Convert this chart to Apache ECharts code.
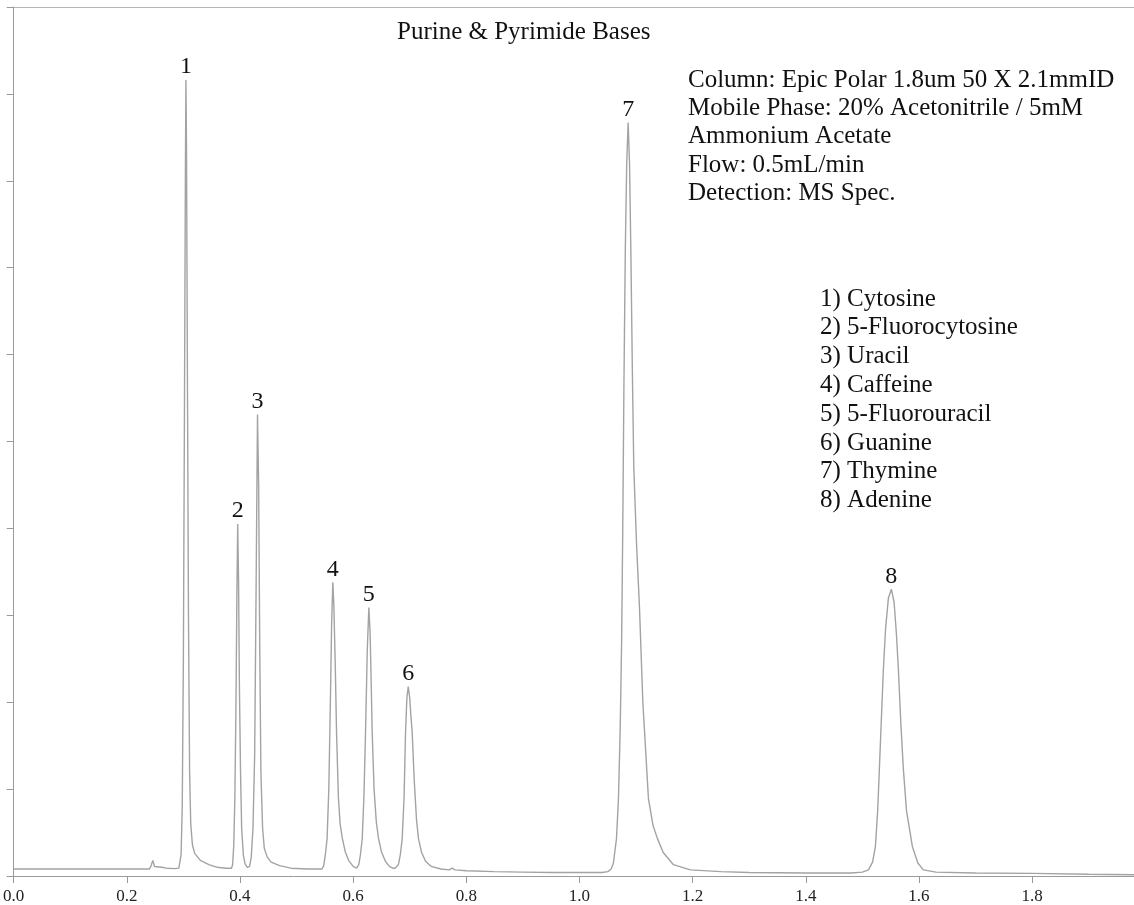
<!DOCTYPE html>
<html>
<head>
<meta charset="utf-8">
<title>Purine &amp; Pyrimide Bases</title>
<script src="https://cdn.jsdelivr.net/npm/echarts@6/dist/echarts.min.js"></script>
<style>
    html, body { margin: 0; padding: 0; background: #fff; }
    #chart { width: 1134px; height: 905px; }
</style>
</head>
<body>
<div id="chart"></div>
<script>
// retention time (min) and detector signal
const traceTime = [
    0, 0.10, 0.20, 0.24, 0.243, 0.246, 0.249, 0.252, 0.262, 0.27, 0.285, 0.292,
    // 1) cytosine
    0.294, 0.296, 0.298, 0.300, 0.302, 0.3035, 0.3045, 0.3055, 0.307, 0.309, 0.311, 0.313, 0.316, 0.320, 0.330, 0.345, 0.360, 0.375, 0.385,
    // 2) 5-fluorocytosine
    0.387, 0.389, 0.391, 0.393, 0.3945, 0.396, 0.3975, 0.399, 0.401, 0.403, 0.406, 0.409, 0.413,
    // 3) uracil
    0.417, 0.420, 0.423, 0.426, 0.4285, 0.431, 0.433, 0.435, 0.437, 0.440, 0.443, 0.448, 0.455, 0.470, 0.490, 0.520, 0.545,
    // 4) caffeine
    0.548, 0.551, 0.554, 0.557, 0.5595, 0.562, 0.5641, 0.566, 0.5685, 0.5707, 0.574, 0.577, 0.581, 0.586, 0.592, 0.600, 0.606,
    // 5) 5-fluorouracil
    0.610, 0.613, 0.6161, 0.619, 0.6219, 0.625, 0.6278, 0.630, 0.632, 0.6337, 0.637, 0.641, 0.6449, 0.650, 0.657, 0.664, 0.670,
    // 6) guanine
    0.674, 0.680, 0.6835, 0.6867, 0.690, 0.6926, 0.695, 0.6974, 0.700, 0.702, 0.7044, 0.708, 0.712, 0.7155, 0.721, 0.728, 0.738, 0.755,
    0.770, 0.775, 0.780, 0.80, 0.85, 0.90, 0.95, 1.00, 1.04,
    // 7) thymine
    1.05, 1.056, 1.060, 1.0625, 1.0654, 1.0689, 1.072, 1.0745, 1.0765, 1.0785, 1.081, 1.0835, 1.0860, 1.0885, 1.091, 1.0935, 1.0960, 1.1010, 1.1060, 1.112, 1.1219, 1.130, 1.1378, 1.148, 1.166, 1.196,
    1.25, 1.30, 1.40, 1.48,
    // 8) adenine
    1.500, 1.5106, 1.518, 1.523, 1.527, 1.530, 1.5335, 1.5371, 1.541, 1.546, 1.5512, 1.556, 1.560, 1.5636, 1.568, 1.5724, 1.578, 1.5883, 1.598, 1.6078,
    1.63, 1.70, 1.80, 1.90, 1.98
]
const traceSignal = [
    0.8, 0.8, 0.8, 0.8, 1.2, 1.8, 1.1, 0.95, 1.0, 0.9, 0.85, 0.9,
    1.0, 2.5, 8, 25, 55, 80, 91.6, 84, 60, 30, 12, 6, 3.6, 2.6, 1.8, 1.3, 1.0, 0.9, 0.9,
    1.3, 3.5, 9, 20, 32, 40.5, 34, 22, 12, 5.5, 2.4, 1.4, 1.0,
    1.1, 2.2, 5.5, 14, 33, 53.1, 45, 26, 12, 5.5, 3.2, 2.2, 1.6, 1.2, 0.9, 0.8, 0.8,
    1.2, 2.5, 4.3, 10, 19, 29, 33.8, 31, 24, 16.5, 9, 6, 4.3, 2.8, 1.8, 1.1, 0.9,
    1.3, 2.5, 4.3, 9, 16.5, 26, 30.9, 28, 22, 16.5, 10, 6.2, 4.3, 2.8, 1.7, 1.1, 0.9,
    0.9, 1.3, 2.5, 4.3, 9, 16.5, 20.5, 21.8, 20.5, 18.5, 16.5, 11, 6.5, 4.3, 2.7, 1.7, 1.1, 0.8,
    0.7, 0.9, 0.7, 0.6, 0.5, 0.45, 0.4, 0.4, 0.4,
    0.5, 0.8, 1.5, 2.8, 4.3, 8.9, 17, 27, 40, 56, 72, 82, 86.7, 82, 71, 58, 47, 38, 31, 20, 8.9, 5.8, 4.3, 2.7, 1.3, 0.7,
    0.5, 0.4, 0.35, 0.35,
    0.45, 0.7, 1.6, 3.4, 7.5, 12.3, 18, 23.8, 28.5, 32, 33.0, 31.5, 28, 23.8, 17.5, 12.3, 7.5, 3.4, 1.5, 0.7,
    0.45, 0.35, 0.3, 0.2, 0.15
]

// peak apex positions, used for the numbers above each peak
const peakNumbers = ['1', '2', '3', '4', '5', '6', '7', '8']
const peakTimes = [0.3045, 0.396, 0.431, 0.5641, 0.6278, 0.6974, 1.086, 1.5512]
const peakHeights = [91.6, 40.5, 53.1, 33.8, 30.9, 21.8, 86.7, 33.0]

const xTicks = [0, 0.2, 0.4, 0.6, 0.8, 1.0, 1.2, 1.4, 1.6, 1.8]

const chartTitle = 'Purine & Pyrimide Bases'
const methodLines = [
    'Column: Epic Polar 1.8um 50 X 2.1mmID',
    'Mobile Phase: 20% Acetonitrile / 5mM',
    'Ammonium Acetate',
    'Flow: 0.5mL/min',
    'Detection: MS Spec.'
]
const compoundNames = [
    '1) Cytosine',
    '2) 5-Fluorocytosine',
    '3) Uracil',
    '4) Caffeine',
    '5) 5-Fluorouracil',
    '6) Guanine',
    '7) Thymine',
    '8) Adenine'
]

const FONT = '"Liberation Serif", "DejaVu Serif", serif'
const TEXT_SIZE = 25
const TRACE_COLOR = '#a3a3a3'
const AXIS_COLOR = '#9a9a9a'

const chart = echarts.init(document.getElementById('chart'))

const textLine = (text, x, y) => ({
    type: 'text',
    x: x,
    y: y,
    style: {
        text: text,
        font: TEXT_SIZE + 'px ' + FONT,
        fill: '#111',
        verticalAlign: 'middle'
    }
})

const graphics = [textLine(chartTitle, 397, 32)]
methodLines.forEach((t, i) => graphics.push(textLine(t, 688, 80 + i * 28.4)))
compoundNames.forEach((t, i) => graphics.push(textLine(t, 820, 299 + i * 28.8)))

chart.setOption({
    animation: false,
    backgroundColor: '#fff',
    grid: {
        left: 13,
        right: 0,
        top: 7,
        bottom: 28
    },
    xAxis: [
        {
            type: 'value',
            min: 0,
            max: 1.98,
            interval: 0.2,
            axisLine: { lineStyle: { color: AXIS_COLOR, width: 1 } },
            axisTick: {
                show: true,
                length: 7,
                customValues: xTicks,
                lineStyle: { color: AXIS_COLOR }
            },
            axisLabel: {
                customValues: xTicks,
                formatter: v => v.toFixed(1),
                fontFamily: FONT,
                fontSize: 17,
                color: '#222',
                margin: 12
            },
            splitLine: { show: false }
        },
        {
            // plain frame line along the top
            type: 'value',
            position: 'top',
            min: 0,
            max: 1.98,
            axisLine: { show: true, lineStyle: { color: '#b5b5b5', width: 1 } },
            axisTick: { show: false },
            axisLabel: { show: false },
            splitLine: { show: false }
        }
    ],
    yAxis: {
        type: 'value',
        min: 0,
        max: 100,
        interval: 10,
        axisLine: { show: true, lineStyle: { color: AXIS_COLOR, width: 1 } },
        axisTick: { show: true, length: 7, lineStyle: { color: AXIS_COLOR } },
        axisLabel: { show: false },
        splitLine: { show: false }
    },
    series: [
        {
            name: 'signal',
            type: 'line',
            showSymbol: false,
            symbol: 'none',
            lineStyle: { color: TRACE_COLOR, width: 1.4 },
            data: traceTime.map((t, i) => [t, traceSignal[i]])
        },
        {
            name: 'peaks',
            type: 'scatter',
            symbolSize: 0,
            itemStyle: { opacity: 1 },
            label: {
                show: true,
                position: 'top',
                distance: 1,
                fontFamily: FONT,
                fontSize: 24,
                color: '#111',
                opacity: 1,
                formatter: p => p.data[2]
            },
            data: peakTimes.map((t, i) => [t, peakHeights[i], peakNumbers[i]])
        }
    ],
    graphic: graphics
})
</script>
</body>
</html>
